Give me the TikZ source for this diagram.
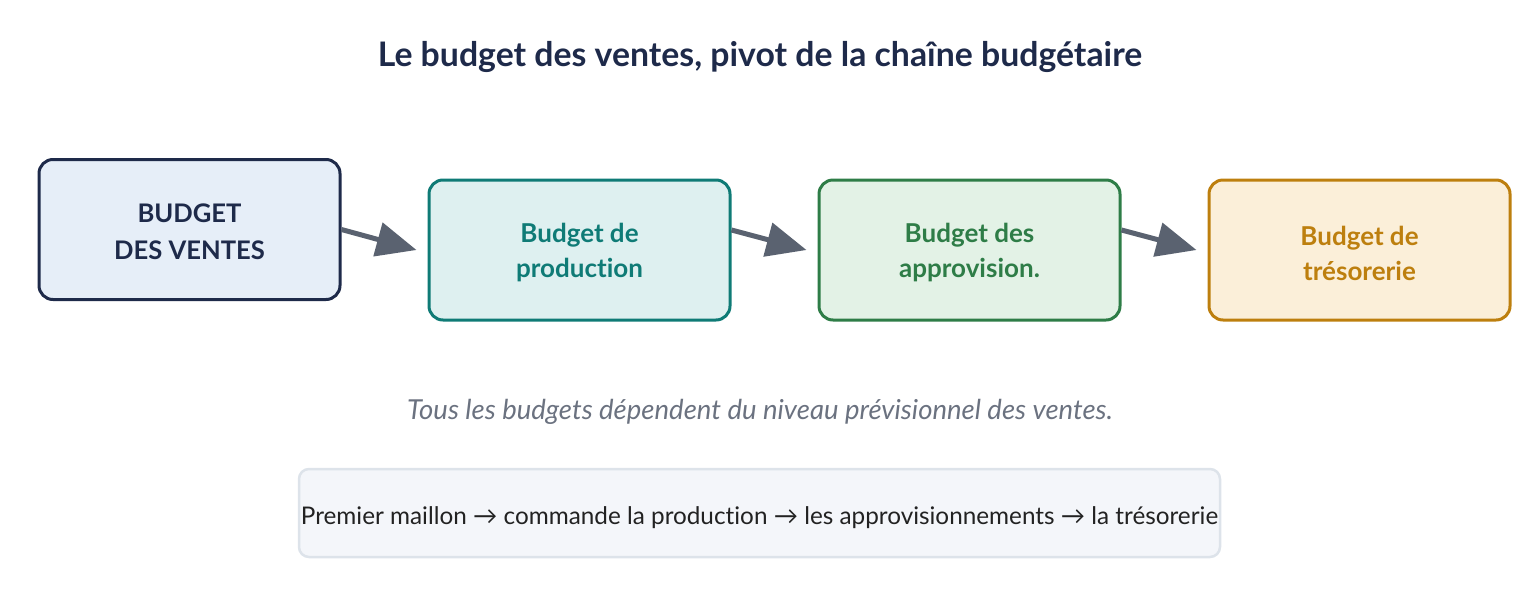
\documentclass[tikz,border=0pt]{standalone}
\usepackage{fontspec}
\setmainfont[Ligatures=NoCommon]{Lato}
\usetikzlibrary{arrows.meta,calc}
\definecolor{navy}{HTML}{1E2A4A}
\definecolor{navyfill}{HTML}{E6EEF8}
\definecolor{teal}{HTML}{0F7B76}
\definecolor{tealfill}{HTML}{DEF0F0}
\definecolor{grn}{HTML}{2E7D47}
\definecolor{grnfill}{HTML}{E3F2E6}
\definecolor{gold}{HTML}{BD7F0E}
\definecolor{goldfill}{HTML}{FBEFD9}
\definecolor{arrowgray}{HTML}{5A6270}
\definecolor{capgray}{HTML}{6B7280}
\definecolor{notefill}{HTML}{F4F6FA}
\definecolor{noteline}{HTML}{DDE3EA}
\definecolor{notetext}{HTML}{222222}
\tikzset{
  budgetbox/.style={rounded corners=14pt, line width=3pt, minimum width=301pt, minimum height=140pt, inner sep=0pt},
  boxtext/.style={align=center, font=\fontsize{26}{35}\selectfont\bfseries, inner sep=0pt},
  flowarrow/.style={line width=5pt, arrowgray, -{Triangle[length=40pt,width=34pt]}},
}
\begin{document}
\begin{tikzpicture}[x=1pt,y=-1pt]
\useasboundingbox (0,0) rectangle (1520,600);
\node[text=navy, font=\fontsize{33.8}{40}\selectfont\bfseries] (title) at (760,57) {Le budget des ventes, pivot de la chaîne budgétaire};
\node[budgetbox, draw=navy, fill=navyfill,
  label={[boxtext, text=navy, font=\fontsize{25.6}{37}\selectfont\bfseries, yshift=-2pt]center:BUDGET\\DES VENTES}] (b1) at (189.5,229.5) {};
\node[budgetbox, draw=teal, fill=tealfill,
  label={[boxtext, text=teal, yshift=-3pt]center:Budget de\\production}] (b2) at (579.5,250) {};
\node[budgetbox, draw=grn, fill=grnfill,
  label={[boxtext, text=grn, yshift=-3pt]center:Budget des\\approvision.}] (b3) at (969.5,250) {};
\node[budgetbox, draw=gold, fill=goldfill,
  label={[boxtext, text=gold, yshift=-3pt]center:Budget de\\trésorerie}] (b4) at (1359.5,250) {};
\coordinate (e1) at ($(b2.west)+(-11,0)$);
\coordinate (e2) at ($(b3.west)+(-11,0)$);
\coordinate (e3) at ($(b4.west)+(-11,0)$);
\coordinate (s1) at (b1.east);
\coordinate (s2) at ($(b2.east)+(0,-20)$);
\coordinate (s3) at ($(b3.east)+(0,-20)$);
\draw[flowarrow] (s1) -- (e1);
\draw[flowarrow] (s2) -- (e2);
\draw[flowarrow] (s3) -- (e3);
\node[text=capgray, font=\fontsize{27.5}{32}\selectfont\itshape] (cap) at (760,412) {Tous les budgets dépendent du niveau prévisionnel des ventes.};
\node[draw=noteline, fill=notefill, line width=2.5pt, rounded corners=10pt, minimum width=921pt, minimum height=88pt, inner sep=0pt,
  label={[text=notetext, font=\fontsize{24.3}{29}\selectfont, inner sep=0pt, yshift=-5pt]center:Premier maillon → commande la production → les approvisionnements → la trésorerie}] (note) at (759.5,513) {};
\end{tikzpicture}
\end{document}
